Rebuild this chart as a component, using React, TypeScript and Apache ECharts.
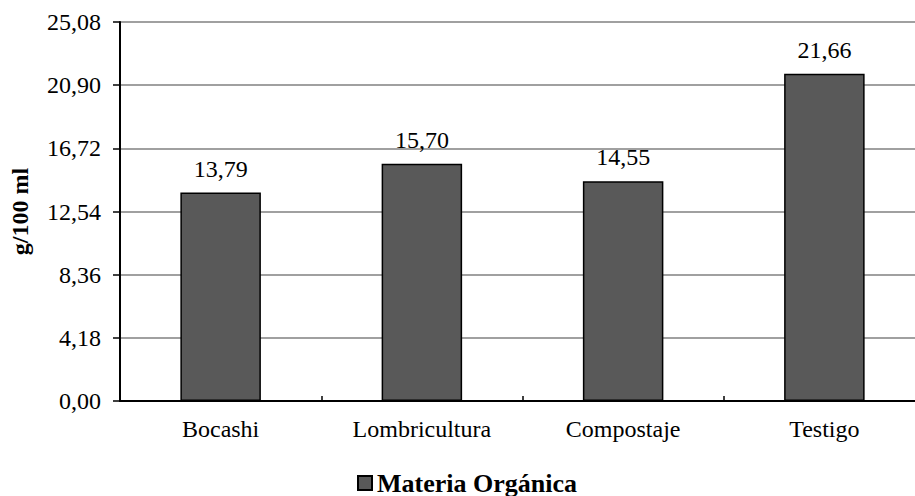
import React, { useEffect, useRef } from "react";
import * as echarts from "echarts";

const categories = ["Bocashi", "Lombricultura", "Compostaje", "Testigo"];
const values = [13.79, 15.7, 14.55, 21.66];
const seriesName = "Materia Orgánica";
const yAxisName = "g/100 ml";
const yMin = 0;
const yMax = 25.08;
const yInterval = 4.18;

const FONT = "Liberation Serif";
const fmt = (v: number) => v.toFixed(2).replace(".", ",");

export default function App() {
  const ref = useRef<HTMLDivElement>(null);
  useEffect(() => {
    if (!ref.current) return;
    const chart = echarts.init(ref.current, null, { renderer: "svg" });
    chart.setOption({
      animation: false,
      backgroundColor: "#ffffff",
      textStyle: { fontFamily: FONT },
      grid: { left: 118, top: 22, bottom: 95, right: 0, containLabel: false },
      legend: {
        top: 465,
        left: 352,
        itemWidth: 14,
        itemHeight: 14,
        itemGap: 4,
        data: [{ name: seriesName, icon: "rect" }],
        textStyle: { fontFamily: FONT, fontSize: 26, fontWeight: "bold", color: "#000" },
      },
      xAxis: [
        {
          type: "category",
          data: categories,
          position: "bottom",
          axisLine: { lineStyle: { color: "#000", width: 2 } },
          axisTick: { show: true, inside: true, length: 5, lineStyle: { color: "#000", width: 1.5 } },
          axisLabel: { fontFamily: FONT, fontSize: 24, color: "#000", margin: 16 },
        },
        {
          type: "category",
          data: categories,
          position: "bottom",
          axisLine: { show: false },
          axisTick: { show: true, inside: true, alignWithLabel: true, length: 5, lineStyle: { color: "#000", width: 1.5 } },
          axisLabel: { show: false },
        },
      ],
      yAxis: {
        type: "value",
        min: yMin,
        max: yMax,
        interval: yInterval,
        name: yAxisName,
        nameLocation: "middle",
        nameGap: 88,
        nameTextStyle: { fontFamily: FONT, fontSize: 24, fontWeight: "bold", color: "#000" },
        axisLine: { show: true, lineStyle: { color: "#000", width: 2 } },
        axisTick: { show: true, length: 7, lineStyle: { color: "#000", width: 1.5 } },
        axisLabel: { fontFamily: FONT, fontSize: 24, color: "#000", margin: 19, formatter: (v: number) => fmt(v) },
        splitLine: { show: true, lineStyle: { color: "#808080", width: 1.5 } },
      },
      series: [
        {
          name: seriesName,
          type: "bar",
          data: values,
          barWidth: "40%",
          itemStyle: { color: "#595959", borderColor: "#000", borderWidth: 1.5 },
          label: {
            show: true,
            position: "top",
            distance: 12,
            fontFamily: FONT,
            fontSize: 24,
            color: "#000",
            formatter: (p: any) => fmt(p.value),
          },
        },
      ],
    });
    return () => chart.dispose();
  }, []);
  return (
    <div style={{ position: "absolute", left: 0, top: 0, width: 915, height: 496, overflow: "hidden" }}>
      <div ref={ref} style={{ width: 925, height: 496 }} />
    </div>
  );
}
